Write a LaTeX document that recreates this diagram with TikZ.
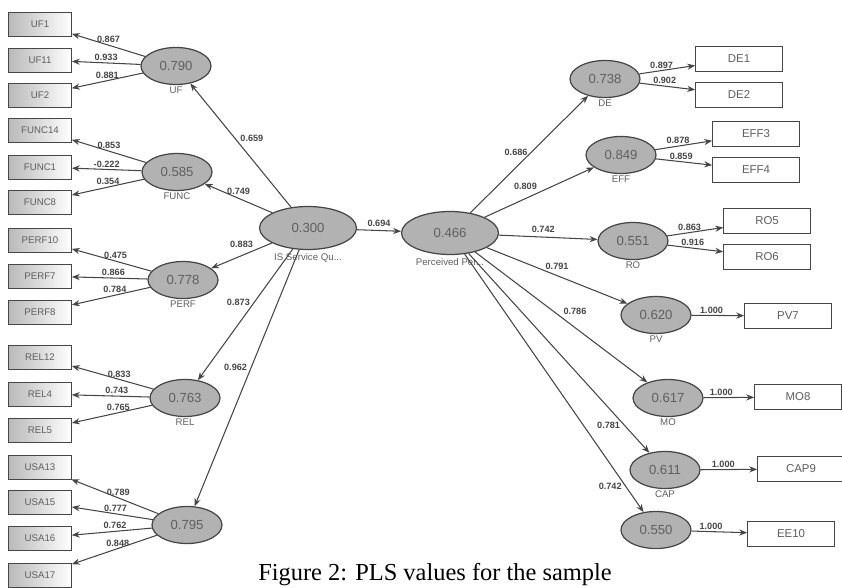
\documentclass[tikz,border=0pt]{standalone}
\usepackage{fontspec}
\setmainfont{Liberation Serif}
\setsansfont{Liberation Sans}
\usepackage{tikz}
\usetikzlibrary{positioning, shapes.geometric, arrows.meta}
\definecolor{PathGray}{RGB}{70,70,70}
\definecolor{LatentGray}{RGB}{178,178,178}
\definecolor{ValueGray}{RGB}{95,95,95}

\begin{document}
\begin{tikzpicture}[
    x=0.02cm, y=-0.02cm,
    every node/.style={
        inner sep=0pt,
        align=center,
        font=\sffamily
    },
    latent/.style={ellipse, draw=PathGray, fill=LatentGray, line width=0.7pt,
        minimum width=1.4cm, minimum height=0.74cm, text=ValueGray,
        font=\sffamily\fontsize{7.5}{8}\selectfont},
    bigl/.style={latent, minimum width=1.94cm, minimum height=0.86cm},
    leftbox/.style={draw=PathGray, left color=gray!55, right color=white,
        minimum width=1.26cm, minimum height=0.48cm,
        font=\sffamily\fontsize{5.5}{6}\selectfont, text=ValueGray},
    rightbox/.style={draw=PathGray, fill=white, minimum width=1.74cm,
        minimum height=0.5cm, font=\sffamily\fontsize{6.5}{8}\selectfont,
        text=ValueGray},
    lname/.style={font=\sffamily\fontsize{5.5}{6}\selectfont, text=ValueGray},
    lbl/.style={font=\sffamily\bfseries\fontsize{5.2}{6}\selectfont, text=PathGray,
        inner sep=1pt},
    arr/.style={draw=PathGray, line width=0.6pt, -{Stealth[length=4.5pt, width=3.5pt]}}
]
\useasboundingbox (0,0) rectangle (842,588);

% Central constructs
\node[bigl] (isq) at (308,228) {0.300};
\node[bigl] (perc) at (450,233) {0.466};
\node[lname] (isq-t) [below=2pt of isq] {IS Service Qu...};
\node[lname] (perc-t) [below=2pt of perc] {Perceived Per...};

% Left constructs
\node[latent] (uf) at (176,66) {0.790};
\node[latent] (func) at (177,172) {0.585};
\node[latent] (perf) at (183,280) {0.778};
\node[latent] (rel) at (185,398) {0.763};
\node[latent] (usa) at (187,525) {0.795};
\node[lname] (uf-t) [below=1pt of uf] {UF};
\node[lname] (func-t) [below=1pt of func] {FUNC};
\node[lname] (perf-t) [below=1pt of perf] {PERF};
\node[lname] (rel-t) [below=1pt of rel] {REL};

% Left indicators
\node[leftbox] (uf1) at (40,24) {UF1};
\node[leftbox] (uf11) at (40,60) {UF11};
\node[leftbox] (uf2) at (40,95) {UF2};
\node[leftbox] (func14) at (40,130) {FUNC14};
\node[leftbox] (func1) at (40,167) {FUNC1};
\node[leftbox] (func8) at (40,202) {FUNC8};
\node[leftbox] (perf10) at (40,240) {PERF10};
\node[leftbox] (perf7) at (40,276) {PERF7};
\node[leftbox] (perf8) at (40,312) {PERF8};
\node[leftbox] (rel12) at (40,357) {REL12};
\node[leftbox] (rel4) at (40,394) {REL4};
\node[leftbox] (rel5) at (40,430) {REL5};
\node[leftbox] (usa13) at (40,467) {USA13};
\node[leftbox] (usa15) at (40,502) {USA15};
\node[leftbox] (usa16) at (40,538) {USA16};
\node[leftbox] (usa17) at (40,575) {USA17};

% Right constructs
\node[latent] (de) at (605,79) {0.738};
\node[latent] (eff) at (621,155) {0.849};
\node[latent] (ro) at (633,241) {0.551};
\node[latent] (pv) at (656,315) {0.620};
\node[latent] (mo) at (668,398) {0.617};
\node[latent] (capl) at (665,470) {0.611};
\node[latent] (ee) at (656,530) {0.550};
\node[lname] (de-t) [below=1pt of de] {DE};
\node[lname] (eff-t) [below=1pt of eff] {EFF};
\node[lname] (ro-t) [below=1pt of ro] {RO};
\node[lname] (pv-t) [below=1pt of pv] {PV};
\node[lname] (mo-t) [below=1pt of mo] {MO};
\node[lname] (capl-t) [below=1pt of capl] {CAP};

% Right indicators
\node[rightbox] (de1) at (739,59) {DE1};
\node[rightbox] (de2) at (739,95) {DE2};
\node[rightbox] (eff3) at (756,134) {EFF3};
\node[rightbox] (eff4) at (756,170) {EFF4};
\node[rightbox] (ro5) at (767,221) {RO5};
\node[rightbox] (ro6) at (767,257) {RO6};
\node[rightbox] (pv7) at (788,316) {PV7};
\node[rightbox] (mo8) at (798,397) {MO8};
\node[rightbox] (cap9) at (801,469) {CAP9};
\node[rightbox] (ee10) at (791,534) {EE10};

% Outer loadings, left
\draw[arr] (uf) -- (uf1) node[lbl, pos=.5, above] {0.867};
\draw[arr] (uf) -- (uf11) node[lbl, pos=.5, above] {0.933};
\draw[arr] (uf) -- (uf2) node[lbl, pos=.5, above] {0.881};
\draw[arr] (func) -- (func14) node[lbl, pos=.5, above] {0.853};
\draw[arr] (func) -- (func1) node[lbl, pos=.5, above] {-0.222};
\draw[arr] (func) -- (func8) node[lbl, pos=.5, above] {0.354};
\draw[arr] (perf) -- (perf10) node[lbl, pos=.45, above] {0.475};
\draw[arr] (perf) -- (perf7) node[lbl, pos=.45, above] {0.866};
\draw[arr] (perf) -- (perf8) node[lbl, pos=.45, above] {0.784};
\draw[arr] (rel) -- (rel12) node[lbl, pos=.42, above] {0.833};
\draw[arr] (rel) -- (rel4) node[lbl, pos=.42, above] {0.743};
\draw[arr] (rel) -- (rel5) node[lbl, pos=.42, above] {0.765};
\draw[arr] (usa) -- (usa13) node[lbl, pos=.46, above] {0.789};
\draw[arr] (usa) -- (usa15) node[lbl, pos=.46, above] {0.777};
\draw[arr] (usa) -- (usa16) node[lbl, pos=.46, above] {0.762};
\draw[arr] (usa) -- (usa17) node[lbl, pos=.46, above] {0.848};

% Path coefficients
\draw[arr] (isq) -- (uf) node[lbl, pos=.56, right=2pt] {0.659};
\draw[arr] (isq) -- (func) node[lbl, pos=.5, above=1pt] {0.749};
\draw[arr] (isq) -- (perf) node[lbl, pos=.5, above=3pt] {0.883};
\draw[arr] (isq) -- (rel) node[lbl, pos=.41, left=1pt] {0.873};
\draw[arr] (isq) -- (usa) node[lbl, pos=.46, left=1pt] {0.962};
\draw[arr] (isq) -- (perc) node[lbl, pos=.5, above=1pt] {0.694};
\draw[arr] (perc) -- (de) node[lbl, pos=.52, left=1pt] {0.686};
\draw[arr] (perc) -- (eff) node[lbl, pos=.5, above left=0pt] {0.809};
\draw[arr] (perc) -- (ro) node[lbl, pos=.45, above=1pt] {0.742};
\draw[arr] (perc) -- (pv) node[lbl, pos=.5, above=2pt] {0.791};
\draw[arr] (perc) -- (mo) node[lbl, pos=.5, above right=0pt] {0.786};
\draw[arr] (perc) -- (capl) node[lbl, pos=.86, left=1pt] {0.781};
\draw[arr] (perc) -- (ee) node[lbl, pos=.9, left=1pt] {0.742};

% Outer loadings, right
\draw[arr] (de) -- (de1) node[lbl, pos=.4, above] {0.897};
\draw[arr] (de) -- (de2) node[lbl, pos=.45, above] {0.902};
\draw[arr] (eff) -- (eff3) node[lbl, pos=.4, above] {0.878};
\draw[arr] (eff) -- (eff4) node[lbl, pos=.45, above] {0.859};
\draw[arr] (ro) -- (ro5) node[lbl, pos=.4, above] {0.863};
\draw[arr] (ro) -- (ro6) node[lbl, pos=.45, above] {0.916};
\draw[arr] (pv) -- (pv7) node[lbl, pos=.38, above] {1.000};
\draw[arr] (mo) -- (mo8) node[lbl, pos=.35, above] {1.000};
\draw[arr] (capl) -- (cap9) node[lbl, pos=.4, above] {1.000};
\draw[arr] (ee) -- (ee10) node[lbl, pos=.35, above] {1.000};

% Caption
\node[font=\rmfamily\fontsize{13.9}{15}\selectfont, anchor=base] (caption) at (435,580)
    {Figure 2: PLS values for the sample};
\end{tikzpicture}
\end{document}
